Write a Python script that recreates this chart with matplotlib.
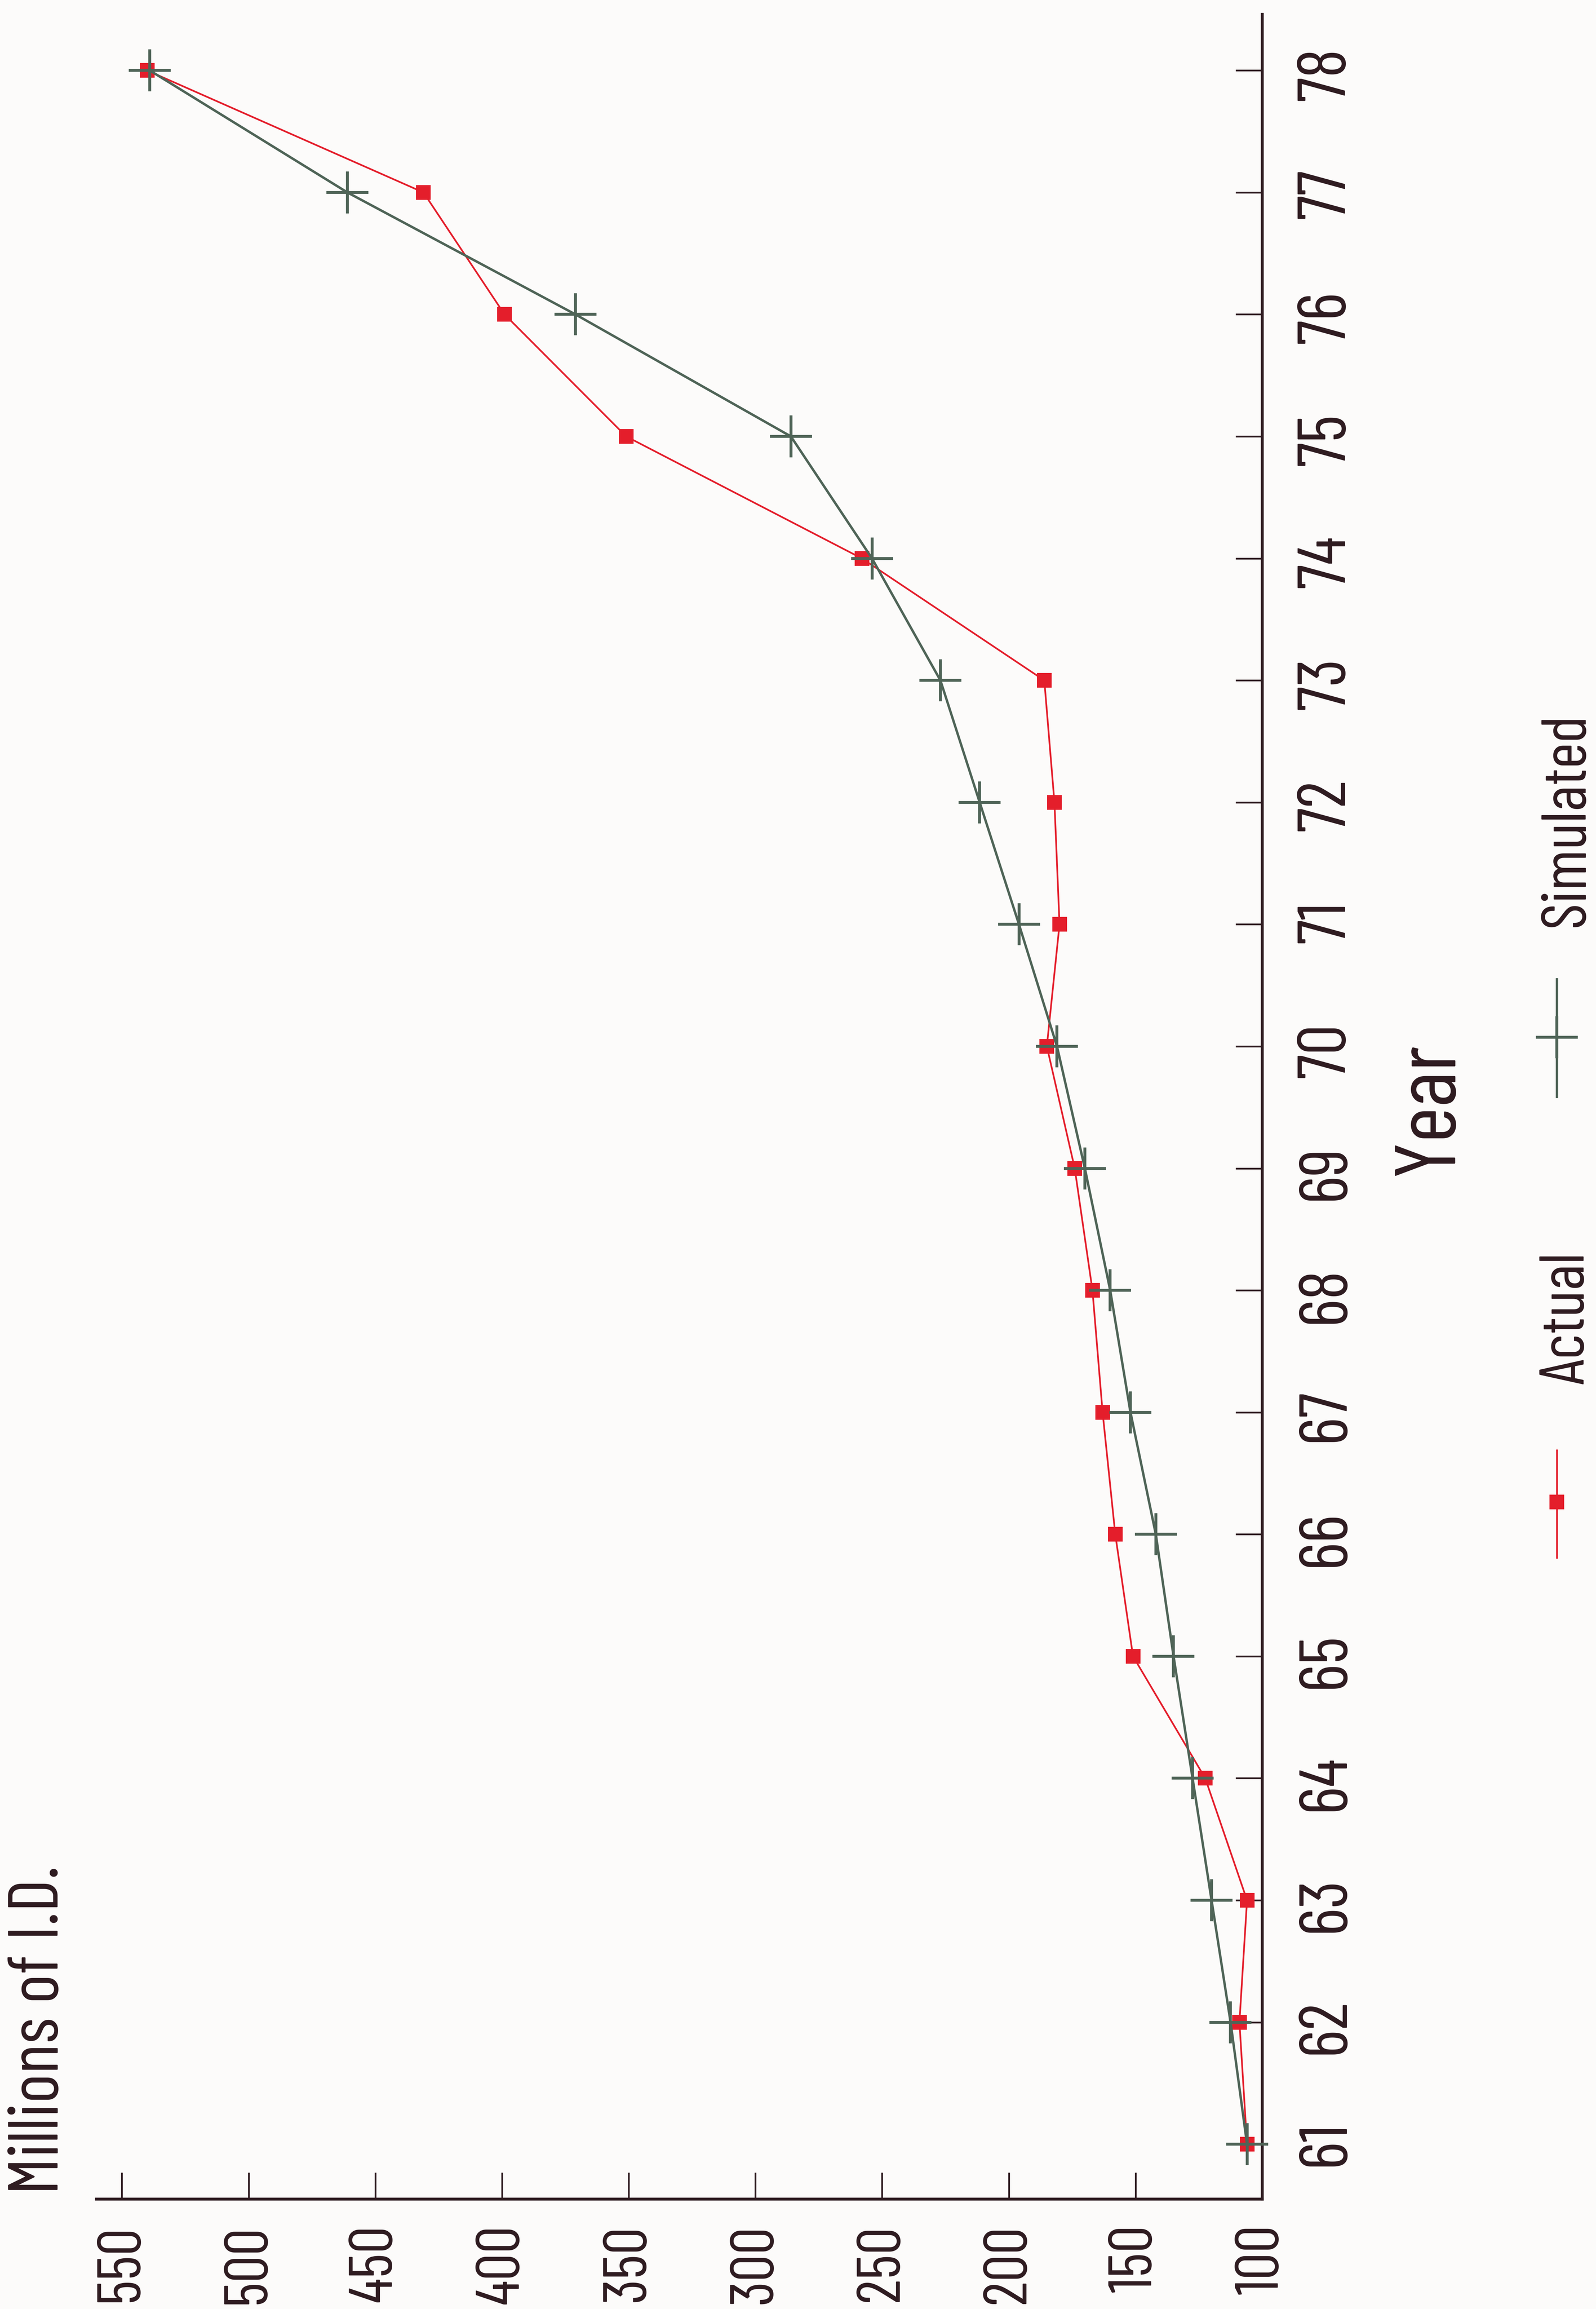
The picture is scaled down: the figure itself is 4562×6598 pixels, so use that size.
import matplotlib
matplotlib.use("Agg")
import matplotlib.pyplot as plt
from matplotlib.lines import Line2D

# ---- data ----
years = [61, 62, 63, 64, 65, 66, 67, 68, 69, 70, 71, 72, 73, 74, 75, 76, 77, 78]
actual = [106, 109, 106, 122.5, 151, 158, 163, 167, 174, 185, 180, 182, 186,
          258, 351, 399, 431, 540]
simulated = [106, 112.5, 120, 127.5, 135, 142, 152, 160, 170, 181, 196, 211.5,
             227, 254, 286, 371, 461, 539]
value_ticks = [100, 150, 200, 250, 300, 350, 400, 450, 500, 550]
value_labels = [str(v) for v in value_ticks]
year_labels = [str(y) for y in years]
series_names = ["Actual", "Simulated"]
title_text = "Millions of I.D."
axis_title = "Year"

# ---- style ----
W, H, DPI = 4562, 6599, 100
BG = "#fcfbfa"
INK = "#2e1b20"
RED = "#e41e2b"
GREEN = "#4f6457"
plt.rcParams["font.family"] = ["Barlow Condensed", "DejaVu Sans"]

fig = plt.figure(figsize=(W / DPI, H / DPI), dpi=DPI, facecolor=BG)
ax = fig.add_axes([276 / W, 1 - 6285 / H, (3608 - 276) / W, (6285 - 42) / H])
ax.set_facecolor(BG)

ax.plot(actual, years, color=RED, lw=3.5, marker="s", ms=30, mfc=RED,
        mec=RED, mew=0, clip_on=False, zorder=3)
ax.plot(simulated, years, color=GREEN, lw=5, marker="+", ms=86, mew=6,
        mec=GREEN, clip_on=False, zorder=4)

ax.set_xlim(560, 100)
ax.set_ylim(60.55, 78.46)

for s in ("top", "left"):
    ax.spines[s].set_visible(False)
for s in ("bottom", "right"):
    ax.spines[s].set_linewidth(6)
    ax.spines[s].set_color(INK)

ax.yaxis.tick_right()
ax.set_xticks(value_ticks, value_labels)
ax.set_yticks(years, year_labels)
ax.tick_params(axis="both", direction="in", length=55, width=3.5,
               colors=INK, labelrotation=90)
ax.tick_params(axis="x", pad=52, labelsize=126)
ax.tick_params(axis="y", pad=70, labelsize=140)

fig.text(115 / W, 1 - 6271 / H, title_text, rotation=90, ha="center",
         va="bottom", fontsize=145, color=INK)
fig.text(4090 / W, 1 - 3170 / H, axis_title, rotation=90, ha="center",
         va="center", fontsize=178, color=INK)

# legend (drawn rotated, like the reference)
lx = 4450 / W
fig.add_artist(Line2D([lx, lx, lx], [1 - 4145 / H, 1 - 4293 / H, 1 - 4452 / H],
                      transform=fig.transFigure, color=RED, lw=3.5,
                      marker="s", ms=30, mew=0, markevery=[1]))
fig.add_artist(Line2D([lx, lx, lx], [1 - 2799 / H, 1 - 2965 / H, 1 - 3135 / H],
                      transform=fig.transFigure, color=GREEN, lw=5,
                      marker="+", ms=86, mew=6, markevery=[1]))
fig.text(4480 / W, 1 - 3766 / H, series_names[0], rotation=90, ha="center",
         va="center", fontsize=130, color=INK)
fig.text(4480 / W, 1 - 2343 / H, series_names[1], rotation=90, ha="center",
         va="center", fontsize=130, color=INK)

fig.savefig("out.png", dpi=DPI, facecolor=BG)
